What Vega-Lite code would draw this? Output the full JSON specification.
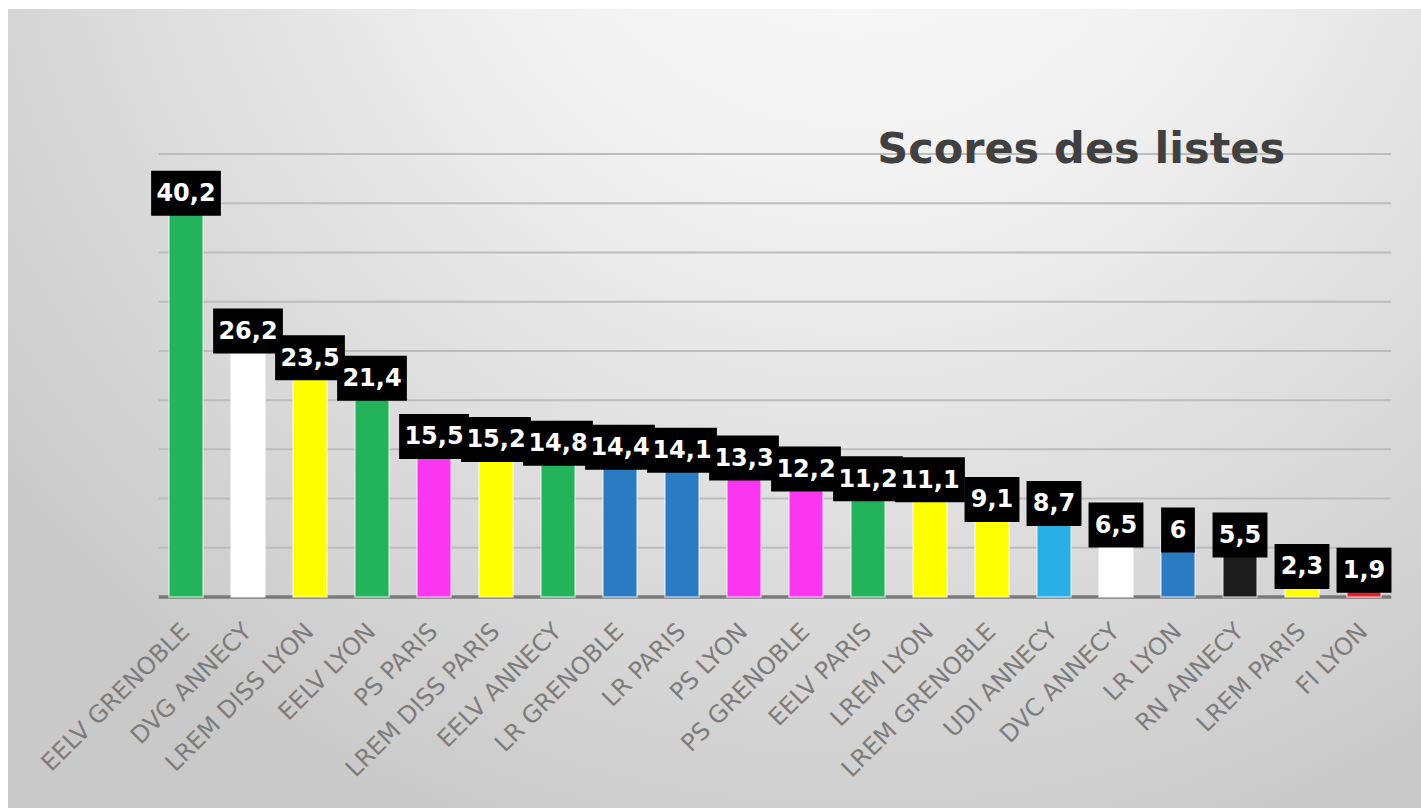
{
  "$schema": "https://vega.github.io/schema/vega-lite/v6.json",
  "width": 1413,
  "height": 799,
  "autosize": {"type": "none"},
  "padding": {"left": 8, "top": 9, "right": 0, "bottom": 3},
  "background": "#ffffff",
  "config": {
    "view": {
      "stroke": null,
      "fill": {
        "gradient": "radial",
        "x1": 0.6, "y1": 0.08, "x2": 0.6, "y2": 0.08,
        "r1": 0, "r2": 0.78,
        "stops": [
          {"offset": 0, "color": "#fcfcfc"},
          {"offset": 0.35, "color": "#f1f1f1"},
          {"offset": 0.7, "color": "#dbdbdb"},
          {"offset": 1, "color": "#c9c9c9"}
        ]
      }
    },
    "locale": {"number": {"decimal": ",", "thousands": " ", "grouping": [3], "currency": ["", " €"]}}
  },
  "title": {
    "text": "Scores des listes",
    "anchor": "end",
    "frame": "group",
    "orient": "top",
    "offset": -157,
    "dy": 40,
    "baseline": "alphabetic",
    "dx": -136,
    "font": "DejaVu Sans",
    "fontWeight": "bold",
    "fontSize": 43,
    "color": "#404040"
  },
  "data": {
    "values": [
      {"name": "EELV GRENOBLE", "parti": "EELV", "score": 40.2},
      {"name": "DVG ANNECY", "parti": "DVG", "score": 26.2},
      {"name": "LREM DISS LYON", "parti": "LREM DISS", "score": 23.5},
      {"name": "EELV LYON", "parti": "EELV", "score": 21.4},
      {"name": "PS PARIS", "parti": "PS", "score": 15.5},
      {"name": "LREM DISS PARIS", "parti": "LREM DISS", "score": 15.2},
      {"name": "EELV ANNECY", "parti": "EELV", "score": 14.8},
      {"name": "LR GRENOBLE", "parti": "LR", "score": 14.4},
      {"name": "LR PARIS", "parti": "LR", "score": 14.1},
      {"name": "PS LYON", "parti": "PS", "score": 13.3},
      {"name": "PS GRENOBLE", "parti": "PS", "score": 12.2},
      {"name": "EELV PARIS", "parti": "EELV", "score": 11.2},
      {"name": "LREM LYON", "parti": "LREM", "score": 11.1},
      {"name": "LREM GRENOBLE", "parti": "LREM", "score": 9.1},
      {"name": "UDI ANNECY", "parti": "UDI", "score": 8.7},
      {"name": "DVC ANNECY", "parti": "DVC", "score": 6.5},
      {"name": "LR LYON", "parti": "LR", "score": 6},
      {"name": "RN ANNECY", "parti": "RN", "score": 5.5},
      {"name": "LREM PARIS", "parti": "LREM", "score": 2.3},
      {"name": "FI LYON", "parti": "FI", "score": 1.9}
    ]
  },
  "encoding": {
    "x": {
      "field": "name",
      "type": "nominal",
      "axis": null,
      "scale": {
        "domain": ["EELV GRENOBLE", "DVG ANNECY", "LREM DISS LYON", "EELV LYON", "PS PARIS", "LREM DISS PARIS", "EELV ANNECY", "LR GRENOBLE", "LR PARIS", "PS LYON", "PS GRENOBLE", "EELV PARIS", "LREM LYON", "LREM GRENOBLE", "UDI ANNECY", "DVC ANNECY", "LR LYON", "RN ANNECY", "LREM PARIS", "FI LYON"],
        "range": [147, 1387],
        "paddingInner": 0.45,
        "paddingOuter": 0.225
      }
    },
    "y": {
      "field": "score",
      "type": "quantitative",
      "axis": null,
      "scale": {"domain": [-21.43, 59.73], "nice": false, "zero": false}
    }
  },
  "layer": [
    {
      "data": {"values": [{"v": 0}, {"v": 5}, {"v": 10}, {"v": 15}, {"v": 20}, {"v": 25}, {"v": 30}, {"v": 35}, {"v": 40}, {"v": 45}]},
      "mark": {"type": "rule"},
      "encoding": {
        "y": {"field": "v", "type": "quantitative", "axis": null},
        "x": {"datum": "EELV GRENOBLE", "type": "nominal", "bandPosition": -0.3, "axis": null},
        "x2": {"datum": "FI LYON", "bandPosition": 1.3},
        "color": {"condition": {"test": "datum.v === 0", "value": "#7a7a7a"}, "value": "#bdbdbd"},
        "strokeWidth": {"condition": {"test": "datum.v === 0", "value": 3.5}, "value": 2}
      }
    },
    {
      "mark": {"type": "bar", "stroke": "#ffffff", "strokeWidth": 1.5, "strokeOpacity": 0.6},
      "encoding": {
        "y2": {"datum": 0},
        "color": {
          "field": "parti",
          "type": "nominal",
          "legend": null,
          "scale": {
            "domain": ["EELV", "DVG", "LREM DISS", "PS", "LR", "UDI", "DVC", "RN", "LREM", "FI"],
            "range": ["#22b35b", "#ffffff", "#ffff00", "#fb36f0", "#2b7bc4", "#29aee6", "#ffffff", "#1c1c1c", "#ffff00", "#e3202b"]
          }
        }
      }
    },
    {
      "mark": {"type": "point", "filled": true, "color": "#000000", "opacity": 1, "size": 2025, "yOffset": -8, "strokeWidth": 0},
      "encoding": {
        "shape": {
          "condition": [
            {"test": "datum.score >= 10", "value": "M-1.55,-1H1.55V1H-1.55Z"},
            {"test": "datum.score === floor(datum.score)", "value": "M-0.75,-1H0.75V1H-0.75Z"}
          ],
          "value": "M-1.22,-1H1.22V1H-1.22Z"
        }
      }
    },
    {
      "mark": {"type": "text", "color": "#ffffff", "font": "DejaVu Sans", "fontWeight": "bold", "fontSize": 24, "baseline": "middle", "align": "center", "yOffset": -7},
      "encoding": {
        "text": {"field": "score", "type": "quantitative", "format": ".1~f"}
      }
    },
    {
      "mark": {"type": "text", "angle": -45, "align": "right", "baseline": "middle", "font": "DejaVu Sans", "fontSize": 24, "color": "#7c7c7c", "yOffset": 31},
      "encoding": {
        "y": {"datum": 0, "type": "quantitative", "axis": null},
        "text": {"field": "name", "type": "nominal"}
      }
    }
  ]
}
